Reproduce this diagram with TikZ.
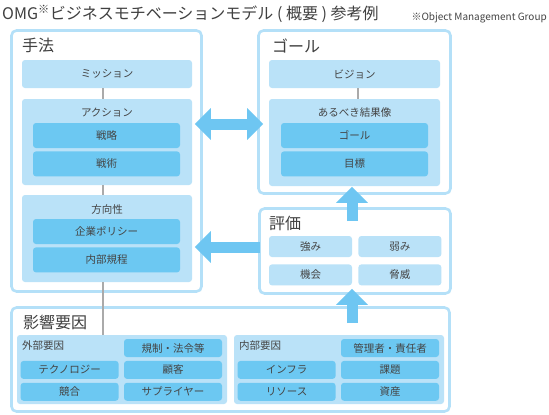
\documentclass[tikz,border=0pt]{standalone}
\usepackage{fontspec}
\setmainfont{Noto Sans CJK JP}
\usepackage{xcolor}
\usepackage{tikz}
\usetikzlibrary{positioning,arrows.meta}

\definecolor{frameblue}{RGB}{180,224,248}
\definecolor{paleblue}{RGB}{186,226,248}
\definecolor{deepblue}{RGB}{108,200,242}
\definecolor{arrowblue}{RGB}{110,198,242}
\definecolor{linkgray}{RGB}{170,170,170}
\definecolor{txtgray}{RGB}{68,68,68}

\begin{document}
\begin{tikzpicture}[x=1pt, y=-1pt,
  font=\fontsize{10.5}{12}\selectfont, text=txtgray,
  >={Triangle[width=31pt, length=16pt]},
  frame/.style={draw=frameblue, line width=2.6pt, rounded corners=5pt, fill=white, inner sep=0pt},
  pane/.style={fill=paleblue, rounded corners=3pt, inner sep=0pt, minimum width=170pt},
  item/.style={fill=deepblue, rounded corners=3pt, inner sep=0pt, minimum width=147pt,
               minimum height=25pt},
  cell/.style={fill=paleblue, rounded corners=3pt, inner sep=0pt, minimum width=83pt,
               minimum height=21pt},
  chip/.style={fill=deepblue, rounded corners=3pt, inner sep=0pt, minimum width=98pt,
               minimum height=18pt},
  ttl/.style={anchor=west, inner sep=0pt, font=\fontsize{16}{18}\selectfont, text=black!75},
  lbl/.style={inner sep=0pt},
  link/.style={draw=linkgray, line width=2.6pt},
  bigarr/.style={draw=arrowblue, line width=11pt}]

\path[fill=white, use as bounding box] (0,0) rectangle (549,415);

% heading
\node[ttl] (title) at (2,14) {OMG\textsuperscript{※}ビジネスモチベーションモデル ( 概要 ) 参考例};
\node[lbl, anchor=east, font=\fontsize{10}{12}\selectfont] (note) at (547,18) {※Object Management Group};

% outer frames
\node[frame, minimum width=190pt, minimum height=261pt] (hoho) at (106.5,161) {};
\node[frame, minimum width=192pt, minimum height=163pt] (goal) at (354.5,112) {};
\node[frame, minimum width=191pt, minimum height=85pt] (hyoka) at (355,251) {};
\node[frame, minimum width=438pt, minimum height=104pt] (eikyo) at (230.5,359.5) {};

\node[ttl] (hohottl) at (22,45.5) {手法};
\node[ttl] (goalttl) at (272,45.5) {ゴール};
\node[ttl] (hyokattl) at (269,223) {評価};
\node[ttl] (eikyottl) at (23,322.5) {影響要因};

% means
\node[pane, minimum height=28pt] (mission) at (107,74) {ミッション};
\node[pane, minimum height=86pt] (action) at (107,142) {};
\node[lbl] (actionlbl) at (107,113) {アクション};
\node[item] (senryaku) at (106.5,135.5) {戦略};
\node[item, below=3pt of senryaku] (senjutsu) {戦術};
\node[pane, minimum height=87pt] (hoko) at (107,238.5) {};
\node[lbl] (hokolbl) at (107,210) {方向性};
\node[item] (policy) at (106.5,231.5) {企業ポリシー};
\node[item, below=3pt of policy] (kitei) {内部規程};

% ends
\node[pane, minimum width=171pt, minimum height=28pt] (vision) at (354.5,74) {ビジョン};
\node[pane, minimum width=171pt, minimum height=87pt] (result) at (354.5,142.5) {};
\node[lbl] (resultlbl) at (354.5,113) {あるべき結果像};
\node[item] (goalitem) at (354.5,135.5) {ゴール};
\node[item, below=3pt of goalitem] (target) {目標};

% assessment
\node[cell] (strength) at (310.5,246.5) {強み};
\node[cell, right=6pt of strength] (weakness) {弱み};
\node[cell, below=7pt of strength] (chance) {機会};
\node[cell, below=7pt of weakness] (threat) {脅威};

% influencers
\node[pane, minimum width=210pt, minimum height=69pt] (gaibu) at (122,369.5) {};
\node[pane, minimum width=210pt, minimum height=69pt] (naibu) at (339,369.5) {};
\node[lbl, anchor=west] (gaibulbl) at (22,346) {外部要因};
\node[lbl, anchor=west] (naibulbl) at (239,346) {内部要因};
\node[chip] (kisei) at (173,348) {規制・法令等};
\node[chip, below=3.5pt of kisei] (customer) {顧客};
\node[chip, below=3.5pt of customer] (supplier) {サプライヤー};
\node[chip, left=5pt of customer] (tech) {テクノロジー};
\node[chip, below=3.5pt of tech] (rival) {競合};
\node[chip] (manager) at (390,348) {管理者・責任者};
\node[chip, below=3.5pt of manager] (issue) {課題};
\node[chip, below=3.5pt of issue] (asset) {資産};
\node[chip, left=5pt of issue] (infra) {インフラ};
\node[chip, below=3.5pt of infra] (resource) {リソース};

% links
\draw[link] ([xshift=-4pt]mission.south) -- ([xshift=-4pt]action.north);
\draw[link] ([xshift=-4pt]action.south) -- ([xshift=-4pt]hoko.north);
\draw[link] ([xshift=-4pt]hoko.south) -- ([xshift=-4pt]hoko.south |- gaibu.north);
\draw[link] ([xshift=3.5pt]vision.south) -- ([xshift=3.5pt]result.north);

% block arrows
\draw[bigarr, <->, shorten <=-8pt, shorten >=-6pt] ([yshift=37pt]hoho.east) -- ([yshift=37pt]hoho.east -| goal.west);
\draw[bigarr, ->, shorten <=-2pt, shorten >=-8pt] ([yshift=4pt]hyoka.west) -- ([yshift=4pt]hyoka.west -| hoho.east);
\draw[bigarr, ->, shorten <=-14pt, shorten >=-8pt] ([xshift=-3pt]hyoka.north) -- ([xshift=-3pt]hyoka.north |- goal.south);
\draw[bigarr, ->, shorten <=-17pt, shorten >=-6pt] ([xshift=-3pt]hyoka.south |- eikyo.north) -- ([xshift=-3pt]hyoka.south);
\end{tikzpicture}
\end{document}
